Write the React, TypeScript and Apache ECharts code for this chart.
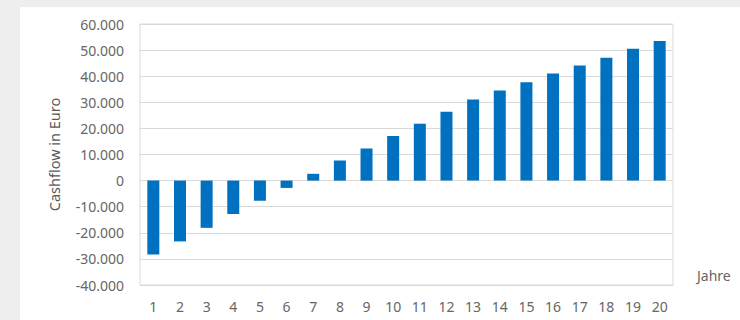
import React, { useEffect, useRef } from "react";
import * as echarts from "echarts";

const years = ["1","2","3","4","5","6","7","8","9","10","11","12","13","14","15","16","17","18","19","20"];
const cashflow = [-28300, -23300, -18100, -12800, -7700, -2800, 2600, 7700, 12300, 17100, 21800, 26400, 31100, 34500, 37700, 41000, 44100, 47100, 50500, 53500];
const yAxisName = "Cashflow in Euro";
const xAxisName = "Jahre";

function fmt(v: number): string {
  const s = Math.abs(v).toString().replace(/\B(?=(\d{3})+(?!\d))/g, ".");
  return (v < 0 ? "-" : "") + s;
}

export default function App() {
  const ref = useRef<HTMLDivElement>(null);
  useEffect(() => {
    if (!ref.current) return;
    const chart = echarts.init(ref.current, null, { renderer: "svg" });
    const font = "'Noto Sans', 'Open Sans', sans-serif";
    chart.setOption({
      animation: false,
      backgroundColor: "#eeeeee",
      graphic: [
        { type: "rect", left: 20, top: 7, shape: { width: 720, height: 313 }, style: { fill: "#ffffff" }, z: -10 },
        { type: "text", left: 697, top: 268, style: { text: xAxisName, fill: "#666666", font: `14px ${font}` } },
      ],
      grid: { left: 140, right: 67, top: 24, bottom: 35, show: true, borderColor: "#d9d9d9", borderWidth: 1, containLabel: false },
      xAxis: {
        type: "category",
        data: years,
        position: "bottom",
        axisLine: { show: false, onZero: false },
        axisTick: { show: false },
        axisLabel: { color: "#666666", fontSize: 14, fontFamily: font, margin: 14 },
      },
      yAxis: {
        type: "value",
        min: -40000,
        max: 60000,
        interval: 10000,
        name: yAxisName,
        nameLocation: "middle",
        nameGap: 79,
        nameTextStyle: { color: "#595959", fontSize: 14.5, fontFamily: font },
        axisLine: { show: false },
        axisTick: { show: false },
        axisLabel: { color: "#666666", fontSize: 14, fontFamily: font, margin: 16, formatter: (v: number) => fmt(v) },
        splitLine: { lineStyle: { color: "#d9d9d9", width: 1 } },
      },
      series: [
        {
          type: "bar",
          data: cashflow,
          barWidth: 12,
          itemStyle: { color: "#0070c0" },
        },
      ],
    });
    return () => chart.dispose();
  }, []);
  return <div ref={ref} style={{ position: "fixed", left: 0, top: 0, width: 740, height: 320 }} />;
}
